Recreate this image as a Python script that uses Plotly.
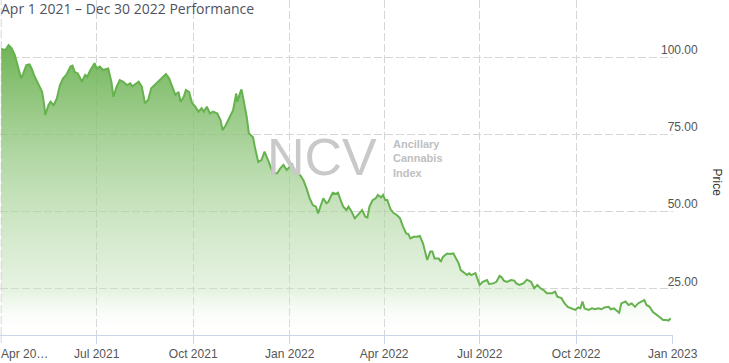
import pandas as pd
import plotly.graph_objects as go

start_date = "2021-04-01"

day_offset = [
    0, 4, 7, 10, 13, 16, 19, 21, 24, 27,
    29, 32, 35, 39, 41, 42, 45, 47, 50, 53,
    56, 59, 62, 66, 68, 70, 73, 77, 80, 82,
    85, 89, 91, 94, 97, 100, 102, 105, 107, 110,
    113, 116, 120, 123, 125, 129, 131, 134, 137, 140,
    143, 148, 153, 157, 160, 163, 166, 169, 171, 174,
    176, 179, 182, 185, 188, 191, 193, 196, 199, 202,
    206, 209, 211, 214, 218, 221, 224, 225, 228, 229,
    231, 234, 236, 240, 242, 245, 248, 251, 255, 259,
    263, 266, 269, 272, 275, 277, 279, 282, 285, 288,
    291, 294, 297, 300, 302, 304, 307, 310, 312, 314,
    316, 319, 321, 324, 326, 329, 331, 334, 337, 340,
    344, 347, 349, 351, 354, 357, 359, 362, 364, 366,
    368, 371, 374, 377, 380, 383, 386, 388, 390, 393,
    396, 399, 402, 404, 406, 409, 411, 413, 417, 419,
    421, 425, 428, 431, 433, 436, 438, 440, 444, 446,
    448, 452, 454, 456, 459, 463, 465, 469, 472, 475,
    477, 479, 482, 486, 489, 491, 494, 498, 501, 505,
    508, 511, 514, 517, 520, 525, 528, 530, 534, 537,
    540, 544, 547, 550, 552, 554, 556, 560, 563, 566,
    569, 572, 575, 579, 581, 584, 587, 589, 591, 595,
    598, 601, 604, 607, 610, 613, 615, 618, 621, 625,
    628, 631, 634, 636, 638,
]

price = [
    102.6, 102.3, 103.9, 102.8, 100.6, 96.4, 93.1, 94.7, 97.4, 97.6,
    96.3, 93.6, 91.5, 88.7, 84.4, 81.2, 84.4, 85.5, 84.4, 86.6,
    90.9, 93.1, 94.2, 96.9, 97.2, 95.2, 94.7, 92.0, 94.2, 93.6,
    95.8, 98.0, 96.3, 96.9, 95.8, 96.0, 96.3, 92.0, 87.1, 90.4,
    92.5, 92.0, 90.9, 91.5, 90.5, 91.5, 92.0, 90.4, 85.0, 86.1,
    89.9, 91.5, 93.1, 94.5, 93.1, 90.4, 87.7, 88.7, 85.5, 87.1,
    89.3, 88.7, 85.0, 83.9, 82.3, 83.4, 82.3, 83.9, 81.7, 82.3,
    81.7, 79.6, 76.3, 77.9, 80.6, 82.8, 88.2, 85.5, 88.7, 89.5,
    86.1, 80.6, 75.3, 74.0, 70.4, 66.0, 66.6, 69.3, 66.0, 62.3,
    62.3, 63.9, 65.0, 63.4, 64.4, 65.5, 63.4, 62.3, 61.7, 60.1,
    57.4, 54.2, 52.0, 51.5, 49.3, 51.5, 54.2, 52.6, 53.1, 54.7,
    56.0, 55.6, 56.0, 53.1, 51.5, 50.4, 51.5, 49.8, 47.7, 48.8,
    50.4, 48.2, 48.0, 51.5, 53.6, 54.2, 55.3, 54.5, 55.3, 53.6,
    53.6, 50.7, 49.4, 48.8, 47.8, 45.0, 42.8, 42.6, 41.2, 41.7,
    41.7, 42.0, 39.6, 36.9, 34.2, 36.9, 36.9, 34.7, 34.7, 33.6,
    35.2, 36.3, 36.1, 36.3, 35.2, 33.1, 30.9, 30.4, 29.3, 29.9,
    29.3, 29.9, 28.2, 26.1, 27.1, 27.7, 26.4, 26.6, 27.1, 29.0,
    28.6, 27.5, 27.1, 27.7, 27.5, 26.6, 26.1, 26.7, 27.8, 27.1,
    25.0, 26.1, 25.0, 24.4, 23.4, 23.4, 23.9, 22.3, 21.8, 20.1,
    19.0, 18.5, 18.0, 18.8, 18.5, 20.7, 18.5, 18.0, 18.5, 18.2,
    18.5, 18.2, 18.8, 19.0, 18.2, 18.5, 17.7, 17.1, 20.1, 20.7,
    19.6, 20.1, 19.0, 20.1, 20.7, 21.2, 19.6, 19.0, 17.4, 16.3,
    15.3, 14.7, 14.7, 14.5, 15.3,
]

x_tick_dates = ["2021-04-01", "2021-07-01", "2021-10-01", "2022-01-01",
                "2022-04-01", "2022-07-01", "2022-10-01", "2023-01-01"]
x_tick_labels = ["Apr 20\u2026", "Jul 2021", "Oct 2021", "Jan 2022",
                 "Apr 2022", "Jul 2022", "Oct 2022", "Jan 2023"]
y_tick_values = [25, 50, 75, 100]
y_tick_labels = ["\u200725.00", "\u200750.00", "\u200775.00", "100.00"]

title_text = "Apr 1 2021 \u2013 Dec 30 2022 Performance"

dates = pd.to_datetime(start_date) + pd.to_timedelta(day_offset, unit="D")

LINE = "#66b24e"
GRID = "#d6d6d6"
AXIS = "#ccd6eb"
TICK_FONT = dict(family="Liberation Sans, Arial, sans-serif", size=12, color="#555555")

fig = go.Figure()
fig.add_trace(go.Scatter(
    x=dates, y=price, mode="lines",
    line=dict(color=LINE, width=2),
    fill="tozeroy",
    fillgradient=dict(
        type="vertical",
        start=9.86, stop=104,
        colorscale=[[0, "rgba(255,255,255,0)"],
                    [0.15, "rgba(200,228,190,0.45)"],
                    [1, "rgba(104,176,78,0.95)"]],
    ),
    hoverinfo="skip",
    showlegend=False,
))

fig.update_layout(
    width=729, height=363,
    margin=dict(l=0, r=56, t=0, b=28, autoexpand=False),
    paper_bgcolor="white", plot_bgcolor="white",
    showlegend=False,
    font=TICK_FONT,
)

# the first label sits left-aligned at its tick (it would not fit centred)
fig.update_xaxes(
    type="date",
    range=["2021-03-30 20:24", "2023-01-01 07:00"],
    tickmode="array", tickvals=x_tick_dates[1:], ticktext=x_tick_labels[1:],
    tickangle=0,
    automargin=False,
    ticks="outside", ticklen=8, tickcolor=AXIS, tickwidth=1,
    showline=True, linecolor=AXIS, linewidth=1,
    showgrid=True, gridcolor=GRID, gridwidth=1, griddash="8px,3px",
    zeroline=False,
    tickfont=TICK_FONT,
    fixedrange=True,
)

# grid line + tick for the first date (same styling as the axis ones)
fig.add_vline(x=pd.Timestamp(x_tick_dates[0]).value / 1e6, line=dict(color=GRID, width=1, dash="8px,3px"),
              layer="below")
fig.add_shape(type="line", xref="x", yref="paper", x0=x_tick_dates[0], x1=x_tick_dates[0],
              y0=0, y1=-8 / 335, line=dict(color=AXIS, width=1))
fig.add_annotation(
    text=x_tick_labels[0], xref="x", yref="paper", x=x_tick_dates[0], y=0,
    xanchor="left", yanchor="middle", yshift=-19, xshift=-2, showarrow=False,
    font=TICK_FONT,
)

fig.update_yaxes(
    range=[9.86, 118.5],
    side="right",
    tickmode="array", tickvals=y_tick_values, ticktext=y_tick_labels,
    ticks="", showline=False,
    showgrid=True, gridcolor=GRID, gridwidth=1, griddash="8px,3px",
    zeroline=False,
    tickfont=TICK_FONT,
    ticklabelstandoff=-13,
    ticklabelshift=-7,
    ticklabeloverflow="allow",
    automargin=False,
    fixedrange=True,
)

fig.add_annotation(
    text=title_text, xref="paper", yref="paper", x=0, y=1,
    xanchor="left", yanchor="top", yshift=3, xshift=-1,
    showarrow=False,
    font=dict(family="Open Sans, sans-serif", size=14, color="#4f5262"),
)

fig.add_annotation(
    text="Price", xref="paper", yref="paper", x=717 / 673, y=1 - 182.5 / 335,
    xanchor="center", yanchor="middle", textangle=90,
    showarrow=False,
    font=dict(family="Liberation Sans, Arial, sans-serif", size=12, color="#333333"),
)

fig.add_annotation(
    text="NCV", xref="paper", yref="paper", x=321.7 / 673, y=1 - 156.5 / 335,
    xanchor="center", yanchor="middle", showarrow=False,
    font=dict(family="Liberation Sans, Arial, sans-serif", size=52, color="#c9c9c9"),
)

fig.add_annotation(
    text="Ancillary<br>Cannabis<br>Index", xref="paper", yref="paper",
    x=391 / 673, y=1 - 158 / 335, xanchor="left", yanchor="middle",
    align="left", showarrow=False,
    font=dict(family="Liberation Sans, Arial, sans-serif", size=11, color="#c0c0c0", weight="bold"),
)

fig.write_html("out.html")
